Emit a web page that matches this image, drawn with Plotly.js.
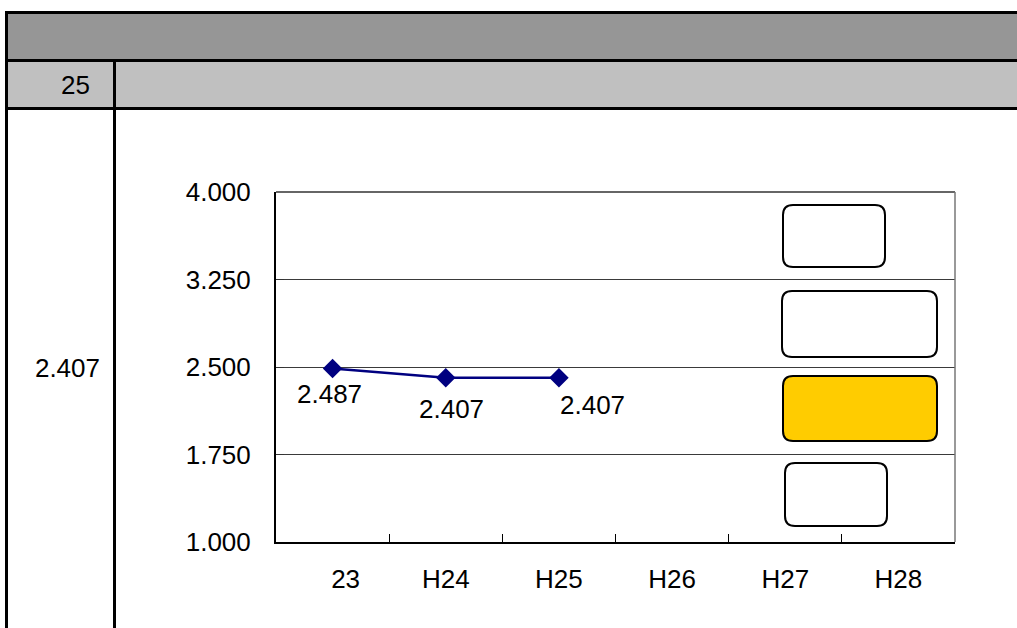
<!DOCTYPE html>
<html>
<head>
<meta charset="utf-8">
<script src="https://cdn.plot.ly/plotly-3.0.1.min.js"></script>
<style>
  html, body { margin: 0; padding: 0; background: #fff; }
  #wrap { position: relative; width: 1017px; height: 628px; overflow: hidden; font-family: "Liberation Sans", Arial, sans-serif; }
  .blk { position: absolute; background: #000; }
  .fill { position: absolute; }
  .cell { position: absolute; font-size: 26px; color: #000; text-align: right; line-height: 1; }
  #chart { position: absolute; left: 0; top: 0; width: 1017px; height: 628px; }
</style>
</head>
<body>
<div id="wrap">
  <div class="fill" style="left:8px;top:14px;width:1009px;height:45px;background:#969696"></div>
  <div class="fill" style="left:8px;top:62px;width:1009px;height:45px;background:#c0c0c0"></div>
  <div class="blk" style="left:5px;top:11px;width:1012px;height:3px"></div>
  <div class="blk" style="left:5px;top:11px;width:3px;height:617px"></div>
  <div class="blk" style="left:5px;top:59px;width:1012px;height:3px"></div>
  <div class="blk" style="left:5px;top:107px;width:1012px;height:3px"></div>
  <div class="blk" style="left:113px;top:62px;width:3px;height:566px"></div>
  <div class="cell" id="yearCell" style="right:927px;top:72px"></div>
  <div class="cell" id="valueCell" style="right:917px;top:355px"></div>
  <div id="chart"></div>
</div>
<script>
// ---- data ----
var categories = ['23', 'H24', 'H25', 'H26', 'H27', 'H28'];
var tickLabels = ['\u300023', 'H24', 'H25', 'H26', 'H27', 'H28'];
var values = [2.487, 2.407, 2.407, null, null, null];
var yTickVals = [1.000, 1.750, 2.500, 3.250, 4.000];
var yearText = '25';
var valueText = '2.407';

document.getElementById('yearCell').textContent = yearText;
document.getElementById('valueCell').textContent = valueText;

// ---- layout geometry (pixels) ----
var W = 1017, H = 628;
var L = 276, R = 955, T = 192, B = 542;
function px(x) { return (x - L) / (R - L); }
function py(y) { return (B - y) / (B - T); }
function roundRect(x0, y0, x1, y1, r) {
  var p = [];
  p.push('M', px(x0 + r), py(y0));
  p.push('L', px(x1 - r), py(y0));
  p.push('Q', px(x1), py(y0), px(x1), py(y0 + r));
  p.push('L', px(x1), py(y1 - r));
  p.push('Q', px(x1), py(y1), px(x1 - r), py(y1));
  p.push('L', px(x0 + r), py(y1));
  p.push('Q', px(x0), py(y1), px(x0), py(y1 - r));
  p.push('L', px(x0), py(y0 + r));
  p.push('Q', px(x0), py(y0), px(x0 + r), py(y0));
  p.push('Z');
  return p.join(' ');
}

var labelShifts = [[-3, -25], [6, -31], [34, -27]];
var annotations = [];
values.forEach(function (v, i) {
  if (v === null) return;
  annotations.push({
    x: i, y: v, xref: 'x', yref: 'y',
    text: v.toFixed(3), showarrow: false,
    xshift: labelShifts[i][0], yshift: labelShifts[i][1],
    font: { size: 26, color: '#000', family: 'Liberation Sans, Arial, sans-serif' }
  });
});

var boxes = [
  { b: [783, 205, 885, 267], fill: '#ffffff' },
  { b: [782, 291, 937, 357], fill: '#ffffff' },
  { b: [783, 376, 937, 441], fill: '#ffcc00' },
  { b: [785, 463, 887, 526], fill: '#ffffff' }
];
var shapes = [
  { type: 'line', xref: 'paper', yref: 'paper', x0: 0, x1: 1, y0: 1, y1: 1, line: { color: '#333', width: 1.5 } },
  { type: 'line', xref: 'paper', yref: 'paper', x0: 1, x1: 1, y0: 0, y1: 1, line: { color: '#777', width: 1.5 } }
];
boxes.forEach(function (bx) {
  shapes.push({
    type: 'path', xref: 'paper', yref: 'paper',
    path: roundRect(bx.b[0], bx.b[1], bx.b[2], bx.b[3], 10),
    fillcolor: bx.fill, line: { color: '#000', width: 2 }, layer: 'above'
  });
});

var trace = {
  x: categories, y: values, type: 'scatter', mode: 'lines+markers',
  line: { color: '#000080', width: 2.5 },
  marker: { symbol: 'diamond', size: 15, color: '#000080' },
  connectgaps: false, hoverinfo: 'none', cliponaxis: false
};

var layout = {
  width: W, height: H,
  margin: { l: L, r: W - R, t: T, b: H - B, pad: 0 },
  paper_bgcolor: 'rgba(0,0,0,0)', plot_bgcolor: 'rgba(0,0,0,0)',
  showlegend: false,
  font: { family: 'Liberation Sans, Arial, sans-serif', size: 26, color: '#000' },
  xaxis: {
    type: 'category', categoryorder: 'array', categoryarray: categories,
    tickvals: categories, ticktext: tickLabels,
    range: [-0.5, 5.5], tickson: 'boundaries', ticks: 'inside', ticklen: 8, tickcolor: '#000', tickwidth: 1,
    showline: true, linecolor: '#000', linewidth: 2, showgrid: false, zeroline: false,
    ticklabelstandoff: 13, tickfont: { size: 26, color: '#000' }
  },
  yaxis: {
    range: [1, 4], tickvals: yTickVals, ticktext: yTickVals.map(function (v) { return v.toFixed(3); }),
    ticks: 'inside', ticklen: 8, tickcolor: '#333',
    showline: true, linecolor: '#000', linewidth: 2,
    showgrid: true, gridcolor: '#3a3a3a', gridwidth: 1, zeroline: false,
    ticklabelstandoff: 18, tickfont: { size: 26, color: '#000' }
  },
  shapes: shapes,
  annotations: annotations
};

Plotly.newPlot('chart', [trace], layout, { staticPlot: true, displayModeBar: false });
</script>
</body>
</html>
